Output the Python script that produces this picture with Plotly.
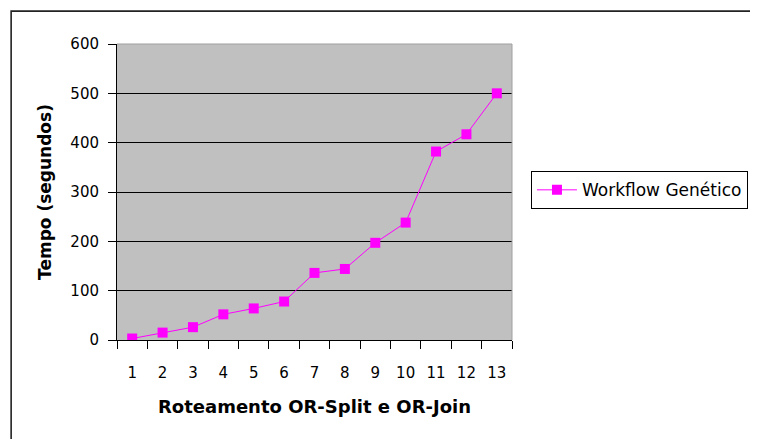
import plotly.graph_objects as go

categories = ["1", "2", "3", "4", "5", "6", "7", "8", "9", "10", "11", "12", "13"]
tempo = [3, 15, 26, 52, 64, 78, 136, 144, 197, 238, 382, 417, 500]
series_name = "Workflow Genético"
y_ticks = [0, 100, 200, 300, 400, 500, 600]

FONT = "DejaVu Sans"

fig = go.Figure()
fig.add_trace(go.Scatter(
    x=categories, y=tempo, name=series_name, mode="lines+markers",
    line=dict(color="#FF00FF", width=1),
    marker=dict(symbol="square", size=10, color="#FF00FF"),
))

# page body has an 8px margin, so the figure is sized/placed to compensate
fig.update_layout(
    width=750, height=431,
    margin=dict(l=109, r=246, t=36, b=99, autoexpand=False),
    paper_bgcolor="white", plot_bgcolor="#C0C0C0",
    font=dict(family=FONT, size=15, color="black"),
    showlegend=True,
    legend=dict(x=1.048, y=0.57, xanchor="left", yanchor="top",
                bgcolor="white", bordercolor="black", borderwidth=1,
                font=dict(family=FONT, size=17, color="black"),
                itemwidth=40),
    xaxis=dict(type="category", range=[-0.5, 12.5], tickson="boundaries",
               ticks="outside", ticklen=8, tickcolor="black", tickwidth=1,
               showline=True, linecolor="black", linewidth=1, showgrid=False,
               ticklabelstandoff=19,
               title=dict(text="<b>Roteamento OR-Split e OR-Join</b>",
                          font=dict(family=FONT, size=18), standoff=19)),
    yaxis=dict(range=[0, 600], tickvals=y_ticks, ticks="outside", ticklen=8,
               tickcolor="black", tickwidth=1, showline=True, linecolor="black",
               linewidth=1, showgrid=True, gridcolor="black", gridwidth=1.2,
               zeroline=False, ticklabelstandoff=6,
               title=dict(text="<b>Tempo (segundos)</b>",
                          font=dict(family=FONT, size=17), standoff=14)),
    shapes=[
        dict(type="line", xref="paper", yref="paper", x0=0, x1=1, y0=1, y1=1,
             line=dict(color="#A0A0A0", width=1.2), layer="above"),
        dict(type="line", xref="paper", yref="paper", x0=1, x1=1, y0=0, y1=1,
             line=dict(color="#A0A0A0", width=1), layer="above"),
        dict(type="rect", xref="paper", yref="paper", x0=-0.268, x1=1.7,
             y0=-0.4, y1=1.111, line=dict(color="#222222", width=1.6)),
    ],
)

fig.write_html("out.html")
